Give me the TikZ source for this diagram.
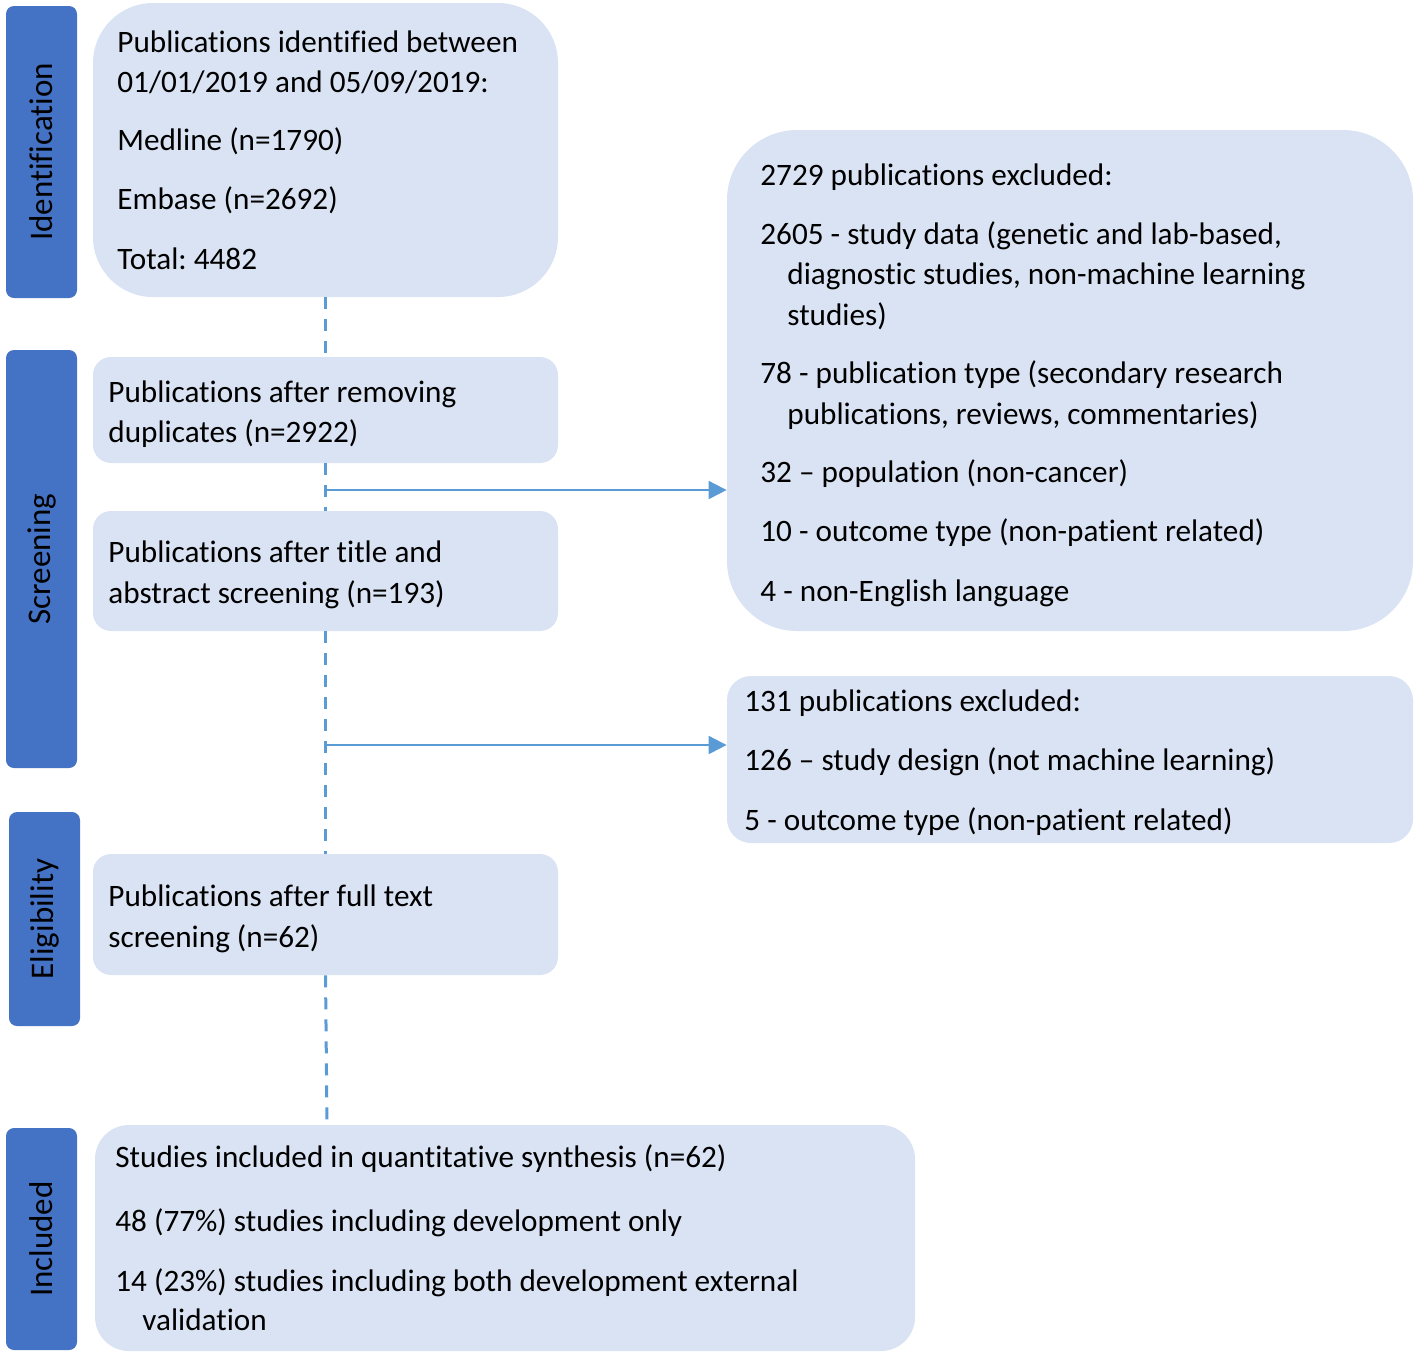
\documentclass[tikz,border=0pt]{standalone}
\usepackage{fontspec}
\setmainfont[RawFeature={-liga}]{Carlito}
\frenchspacing
\usetikzlibrary{fit,arrows.meta,calc}
\definecolor{boxfill}{HTML}{DAE3F3}
\definecolor{stagefill}{HTML}{4472C4}
\definecolor{linecol}{HTML}{5B9BD5}
\begin{document}
\begin{tikzpicture}[x=0.5pt,y=-0.5pt,
  box/.style={fill=boxfill, draw=none, inner sep=0pt},
  stage/.style={fill=stagefill, draw=none, inner sep=0pt, rounded corners=4pt},
  stagetext/.style={rotate=90, text=black, font=\fontsize{16.5pt}{20pt}\selectfont},
  txt/.style={anchor=base west, inner sep=0pt, font=\fontsize{15.6pt}{20pt}\selectfont, text=black},
  flow/.style={draw=linecol, line width=1.5pt, dash pattern=on 6pt off 5pt},
  excl/.style={draw=linecol, line width=1pt, -{Triangle[length=9pt,width=9pt]}}]
\useasboundingbox (0,0) rectangle (1416,1357);
% stage labels
\node[stage, fit={(6,6)(77,298)}] (s1) {};
\node[stagetext] at (s1.center) {Identification};
\node[stage, fit={(6,350)(77,768)}] (s2) {};
\node[stagetext] at (s2.center) {Screening};
\node[stage, fit={(9,812)(80,1026)}] (s3) {};
\node[stagetext] at (s3.center) {Eligibility};
\node[stage, fit={(6,1128)(77,1350)}] (s4) {};
\node[stagetext] at (s4.center) {Included};
% boxes
\node[box, rounded corners=30pt, fit={(93,3)(558,297)}] (b1) {};
\node[box, rounded corners=9pt, fit={(93,357)(558,463)}] (b2) {};
\node[box, rounded corners=9pt, fit={(93,511)(558,631)}] (b3) {};
\node[box, rounded corners=9pt, fit={(93,854)(558,975)}] (b4) {};
\node[box, rounded corners=17pt, fit={(95,1125)(915,1351)}] (b5) {};
\node[box, rounded corners=35pt, fit={(727,130)(1413,631)}] (r1) {};
\node[box, rounded corners=12pt, fit={(727,676)(1413,843)}] (r2) {};
% texts box1
\node[txt] (t11) at (117,52) {Publications identified between};
\node[txt] (t12) at (117,92) {01/01/2019 and 05/09/2019:};
\node[txt] (t13) at (117,150) {Medline (n=1790)};
\node[txt] (t14) at (117,209) {Embase (n=2692)};
\node[txt] (t15) at (117,269) {Total: 4482};
% box2
\node[txt] (t21) at (108,402) {Publications after removing};
\node[txt] (t22) at (108,442) {duplicates (n=2922)};
% box3
\node[txt] (t31) at (108,562) {Publications after title and};
\node[txt] (t32) at (108,603) {abstract screening (n=193)};
% box4
\node[txt] (t41) at (108,906) {Publications after full text};
\node[txt] (t42) at (108,947) {screening (n=62)};
% box5
\node[txt] (t51) at (115,1167) {Studies included in quantitative synthesis (n=62)};
\node[txt] (t52) at (115,1231) {48 (77\%) studies including development only};
\node[txt] (t53) at (115,1291) {14 (23\%) studies including both development external};
\node[txt] (t54) at (142,1330) {validation};
% right1
\node[txt] (r11) at (760,185) {2729 publications excluded:};
\node[txt] (r12) at (760,244) {2605 - study data (genetic and lab-based,};
\node[txt] (r13) at (787,284) {diagnostic studies, non-machine learning};
\node[txt] (r14) at (787,325) {studies)};
\node[txt] (r15) at (760,383) {78 - publication type (secondary research};
\node[txt] (r16) at (787,424) {publications, reviews, commentaries)};
\node[txt] (r17) at (760,482) {32 – population (non-cancer)};
\node[txt] (r18) at (760,541) {10 - outcome type (non-patient related)};
\node[txt] (r19) at (760,601) {4 - non-English language};
% right2
\node[txt] (r21) at (744,711) {131 publications excluded:};
\node[txt] (r22) at (744,770) {126 – study design (not machine learning)};
\node[txt] (r23) at (744,830) {5 - outcome type (non-patient related)};
% connectors
\coordinate (j1) at (325.5,490);
\coordinate (j2) at (325.5,745);
\coordinate (endinc) at (327,1122);
\draw[flow] (b1.south) -- (b2.north);
\draw[flow] (b2.south) -- (b3.north);
\draw[flow] (b3.south) -- (b4.north);
\draw[flow] (b4.south) -- (endinc);
\draw[excl] (j1) -- (j1 -| r1.west);
\draw[excl] (j2) -- (j2 -| r2.west);
\end{tikzpicture}
\end{document}
